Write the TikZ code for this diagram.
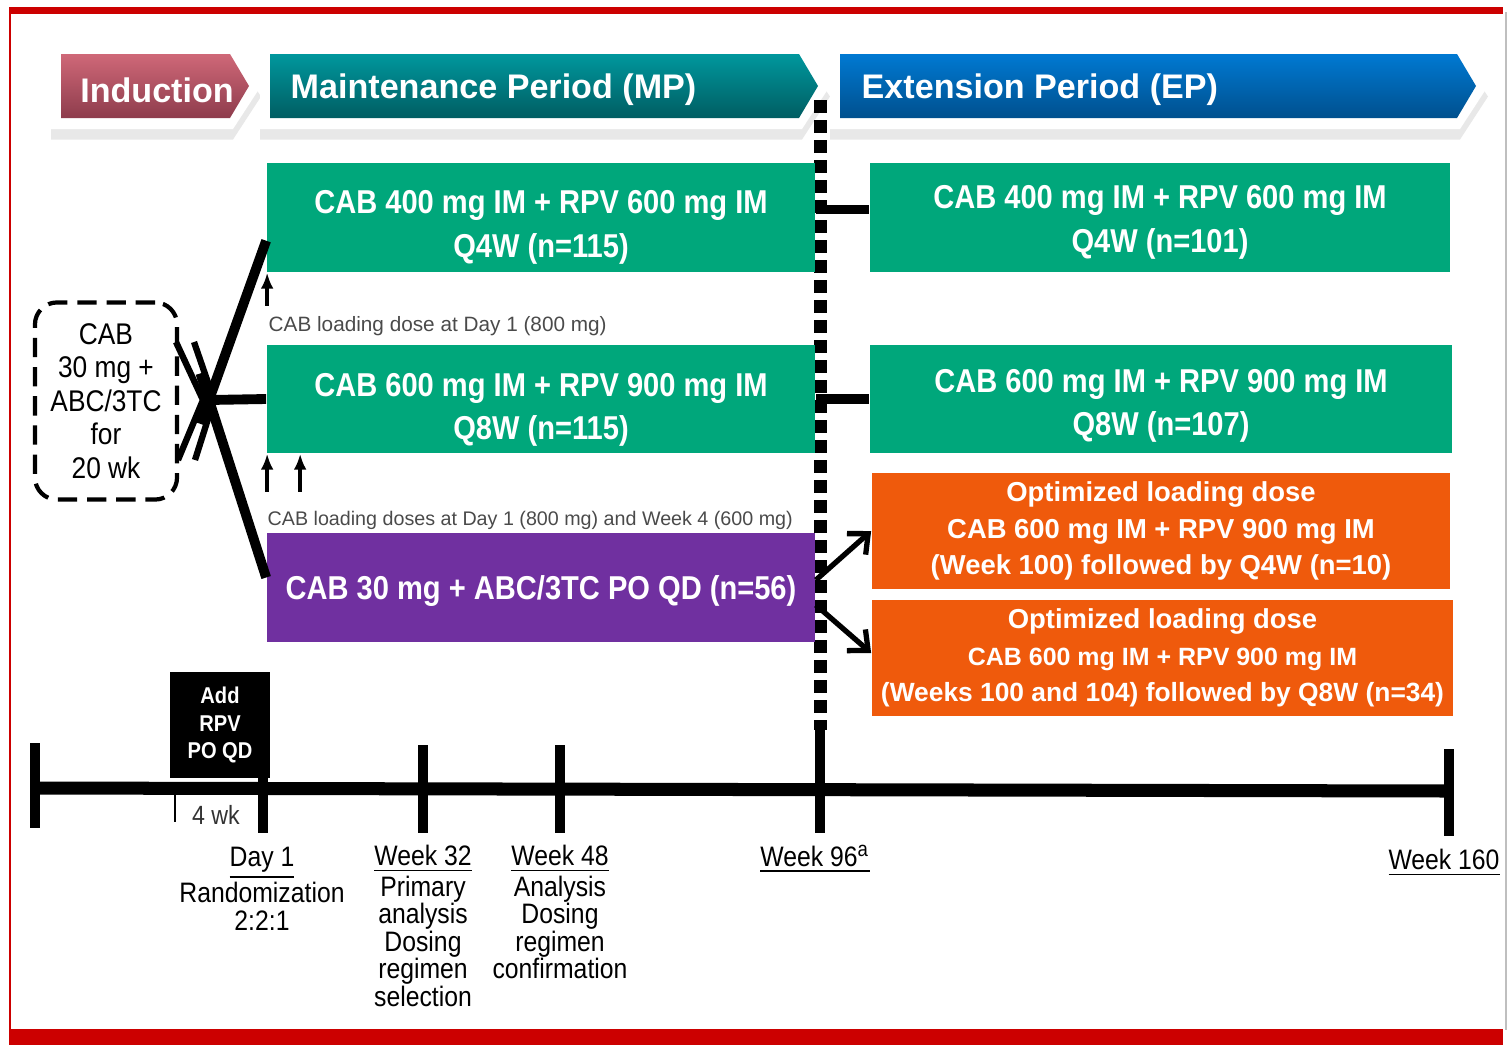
\documentclass[tikz,border=0pt]{standalone}
\usepackage{fontspec}
\setmainfont{Liberation Sans}
\newfontfamily\narrowfont{Liberation Sans}[FakeStretch=0.88]
\usepackage{tikz}
\usetikzlibrary{positioning,calc,arrows.meta,shadows}
\definecolor{ArmGreen}{HTML}{00A77B}
\definecolor{OralPurple}{HTML}{7030A0}
\definecolor{OptOrange}{HTML}{EF5A0C}
\definecolor{FrameRed}{HTML}{CC0000}
\definecolor{IndTop}{HTML}{CF6878}
\definecolor{IndBot}{HTML}{8E3C4C}
\definecolor{MPTop}{HTML}{00979D}
\definecolor{MPBot}{HTML}{005D62}
\definecolor{EPTop}{HTML}{0079D2}
\definecolor{EPBot}{HTML}{00508E}
\definecolor{NoteGrey}{HTML}{4A4A4A}

% phase banner: left edge, tip, top colour, bottom colour
\newcommand{\phasebar}[4]{%
  \path[fill=white, drop shadow={shadow xshift=0pt, shadow yshift=-3pt, opacity=.18}]
    (#1-10,44) -- (#2-16,44) -- (#2+12,86) -- (#2-16,129) -- (#1-10,129) -- cycle;
  \path[top color=#3, bottom color=#4]
    (#1,54) -- (#2-19,54) -- (#2,86) -- (#2-19,118) -- (#1,118) -- cycle;}

\begin{document}
\begin{tikzpicture}[x=0.01cm, y=-0.01cm,
  armbox/.style={rectangle, inner sep=0pt, minimum height=1.09cm},
  armtext/.style={inner sep=0pt, text=white, align=center,
    font=\narrowfont\bfseries\fontsize{9.4}{12.4}\selectfont},
  optbox/.style={rectangle, inner sep=0pt, fill=OptOrange, text=white, align=center,
    minimum height=1.16cm, font=\bfseries\fontsize{7.8}{10.4}\selectfont},
  phasetext/.style={text=white, inner sep=0pt, font=\bfseries\fontsize{9.7}{11}\selectfont},
  note/.style={anchor=west, inner sep=0pt, text=NoteGrey},
  milestone/.style={anchor=north, inner sep=0pt, align=center,
    font=\narrowfont\fontsize{8}{7.8}\selectfont},
  branch/.style={line width=2.8pt},
  chevron/.style={line width=1.8pt},
  loadarrow/.style={line width=1.2pt, -{Latex[length=4.5pt,width=3.6pt]}},
  switcharrow/.style={line width=1.5pt, -{Straight Barb[length=4.5pt,width=8pt]}},
  tick/.style={line width=2.8pt}]
  \useasboundingbox (0,0) rectangle (1509,1045);

  % frame
  \fill[FrameRed] (9,7) rectangle (1503,14);
  \fill[FrameRed] (9,7) rectangle (11,1045);
  \fill[FrameRed] (9,1029) rectangle (1503,1045);
  \draw[black!25, line width=0.6pt] (1506,12) -- (1506,1030);

  % phase banners
  \phasebar{61}{249}{IndTop}{IndBot}
  \phasebar{270}{818}{MPTop}{MPBot}
  \phasebar{840}{1476}{EPTop}{EPBot}
  \node[phasetext] (ind) at (157,90) {Induction};
  \node[phasetext, anchor=west] (mp) at (290,90) {Maintenance Period (MP)};
  \node[phasetext, anchor=west] (ep) at (861,90) {Extension Period (EP)};

  % week 96 switch line
  \draw[line width=3.7pt, dash pattern=on 0.13cm off 0.07cm] (820,100) -- (820,730);

  % induction
  \node[draw, rounded corners=0.22cm, line width=1.2pt,
    dash pattern=on 5.5pt off 2.8pt, minimum width=1.42cm, minimum height=1.97cm,
    inner sep=0pt, align=center, font=\narrowfont\fontsize{8.5}{9.5}\selectfont]
    (induct) at (106,401) {CAB\\30 mg +\\ABC/3TC\\for\\20 wk};

  % maintenance arms
  \node[armbox, fill=ArmGreen, minimum width=5.48cm] (mp1) at (541,217.5) {};
  \node[armtext] (mp1text) at ([yshift=-0.1cm]mp1.center) {CAB 400 mg IM + RPV 600 mg IM\\Q4W (n=115)};
  \node[armbox, fill=ArmGreen, minimum width=5.48cm, minimum height=1.08cm] (mp2) at (541,399) {};
  \node[armtext] (mp2text) at ([yshift=-0.11cm]mp2.center) {CAB 600 mg IM + RPV 900 mg IM\\Q8W (n=115)};
  \node[armbox, fill=OralPurple, minimum width=5.48cm] (oral) at (541,587.5) {};
  \node[armtext] (oraltext) at ([yshift=-0.04cm]oral.center) {CAB 30 mg + ABC/3TC PO QD (n=56)};
  \node[note, font=\fontsize{5.9}{7}\selectfont] (load1) at (268,326) {CAB loading dose at Day 1 (800 mg)};
  \node[note, font=\fontsize{5.6}{7}\selectfont] (load2) at (267,520) {CAB loading doses at Day 1 (800 mg) and Week 4 (600 mg)};

  % extension arms
  \node[armbox, fill=ArmGreen, minimum width=5.80cm] (ep1) at (1160,217.5) {};
  \node[armtext] (ep1text) at ([yshift=-0.05cm]ep1.center) {CAB 400 mg IM + RPV 600 mg IM\\Q4W (n=101)};
  \node[armbox, fill=ArmGreen, minimum width=5.82cm, minimum height=1.08cm] (ep2) at (1161,399) {};
  \node[armtext] (ep2text) at ([yshift=-0.07cm]ep2.center) {CAB 600 mg IM + RPV 900 mg IM\\Q8W (n=107)};
  \node[optbox, minimum width=5.78cm] (opt1) at (1161,531)
    {Optimized loading dose\\CAB 600 mg IM + RPV 900 mg IM\\(Week 100) followed by Q4W (n=10)};
  \node[optbox, minimum width=5.81cm] (opt2) at (1162.5,658)
    {Optimized loading dose\\\fontsize{7.1}{10.4}\selectfont CAB 600 mg IM + RPV 900 mg IM\\
     \fontsize{7.5}{10.4}\selectfont (Weeks 100 and 104) followed by Q8W (n=34)};

  % randomization split
  \coordinate (split) at (209,400);
  \draw[chevron] (176,342) -- (203,400) -- (178,460);
  \draw[chevron] (194,342) -- (214,400) -- (195,460);
  \draw[branch] (split) -- (mp2.west);
  \draw[branch] ($(split)!-0.15!([yshift=0.32cm]mp1.south west)$) -- ([yshift=0.32cm]mp1.south west);
  \draw[branch] ($(split)!-0.15!([yshift=0.1cm]oral.west)$) -- ([yshift=0.1cm]oral.west);
  \draw[loadarrow] ([xshift=0.01cm,yshift=-0.33cm]mp1.south west) -- ([xshift=0.01cm]mp1.south west);
  \draw[loadarrow] ([xshift=0.01cm,yshift=-0.38cm]mp2.south west) -- ([xshift=0.01cm]mp2.south west);
  \draw[loadarrow] ([xshift=0.34cm,yshift=-0.38cm]mp2.south west) -- ([xshift=0.34cm]mp2.south west);

  % MP to EP
  \draw[branch] ([yshift=0.08cm]mp1.east) -- ([yshift=0.08cm]ep1.west);
  \draw[branch] (mp2.east) -- (ep2.west);
  \draw[switcharrow] ([yshift=0.075cm]oral.east) -- (opt1.west);
  \draw[switcharrow] ([yshift=-0.175cm]oral.east) -- ([yshift=0.05cm]opt2.west);

  % timeline
  \coordinate (start) at (35,788);
  \coordinate (finish) at (1449,791);
  \node[fill=black, text=white, inner sep=0pt, minimum width=1cm, minimum height=1.06cm,
    align=center, font=\narrowfont\bfseries\fontsize{6.5}{7.7}\selectfont]
    (rpv) at (220,725) {Add\\RPV\\PO QD};
  \draw[line width=3.7pt] (start) -- (finish);
  \foreach \x/\a/\b in {35/743/828, 263/778/833, 423/745/833, 560/745/833, 820/730/833, 1449/749/836}
    \draw[tick] (\x,\a) -- (\x,\b);
  \draw[line width=0.6pt] (175,792) -- (175,822);
  \node[inner sep=0pt, text=black!80, font=\narrowfont\fontsize{7.5}{8}\selectfont] (fourwk) at (216,815) {4 wk};

  % milestones
  \node[milestone] (lday1) at (262,846) {\underline{Day 1}\\Randomization\\2:2:1};
  \node[milestone] (lwk32) at (423,844) {\underline{Week 32}\\Primary\\analysis\\Dosing\\regimen\\selection};
  \node[milestone] (lwk48) at (560,844) {\underline{Week 48}\\Analysis\\Dosing\\regimen\\confirmation};
  \node[milestone] (lwk96) at (815,844) {\underline{Week 96\textsuperscript{a}}};
  \node[milestone] (lwk160) at (1444,848) {\underline{Week 160}};
\end{tikzpicture}
\end{document}
